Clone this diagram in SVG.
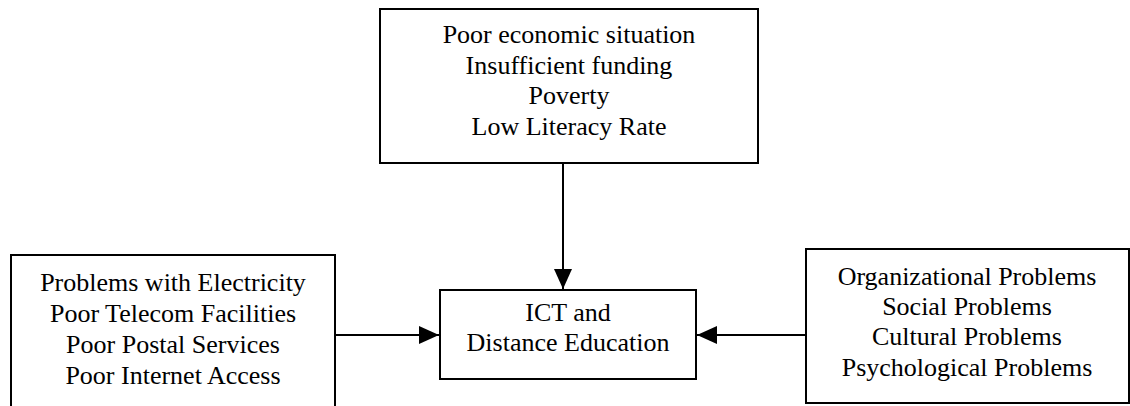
<svg xmlns="http://www.w3.org/2000/svg" width="1130" height="406" viewBox="0 0 1130 406">
<style>
.box{fill:#fff;stroke:#000;stroke-width:2}
.t{font-family:"Liberation Serif","Times New Roman",serif;font-size:26px;fill:#000;text-anchor:middle}
.c{stroke:#000;stroke-width:2;fill:none}
</style>
<defs>
<marker id="ah" markerUnits="userSpaceOnUse" markerWidth="20" markerHeight="18" refX="20" refY="9" orient="auto">
<path d="M0,0 L20,9 L0,18 Z" fill="#000"/>
</marker>
</defs>
<rect width="1130" height="406" fill="#fff"/>
<g id="top">
<rect class="box" x="380" y="9" width="378" height="154"/>
<text class="t" x="569" y="43">Poor economic situation</text>
<text class="t" x="569" y="74">Insufficient funding</text>
<text class="t" x="569" y="104">Poverty</text>
<text class="t" x="569" y="135">Low Literacy Rate</text>
</g>
<g id="left">
<path class="box" d="M11,410 L11,255 L335,255 L335,410"/>
<text class="t" x="173" y="291">Problems with Electricity</text>
<text class="t" x="173" y="322">Poor Telecom Facilities</text>
<text class="t" x="173" y="353">Poor Postal Services</text>
<text class="t" x="173" y="384">Poor Internet Access</text>
</g>
<g id="center">
<rect class="box" x="440" y="290" width="256" height="89"/>
<text class="t" x="568" y="321">ICT and</text>
<text class="t" x="568" y="351">Distance Education</text>
</g>
<g id="right">
<rect class="box" x="806" y="249" width="323" height="154"/>
<text class="t" x="967" y="285">Organizational Problems</text>
<text class="t" x="967" y="315">Social Problems</text>
<text class="t" x="967" y="345">Cultural Problems</text>
<text class="t" x="967" y="376">Psychological Problems</text>
</g>
<g id="connectors">
<line class="c" x1="563" y1="164" x2="563" y2="289" marker-end="url(#ah)"/>
<line class="c" x1="336" y1="335" x2="439" y2="335" marker-end="url(#ah)"/>
<line class="c" x1="805" y1="335" x2="697" y2="335" marker-end="url(#ah)"/>
</g>
</svg>
